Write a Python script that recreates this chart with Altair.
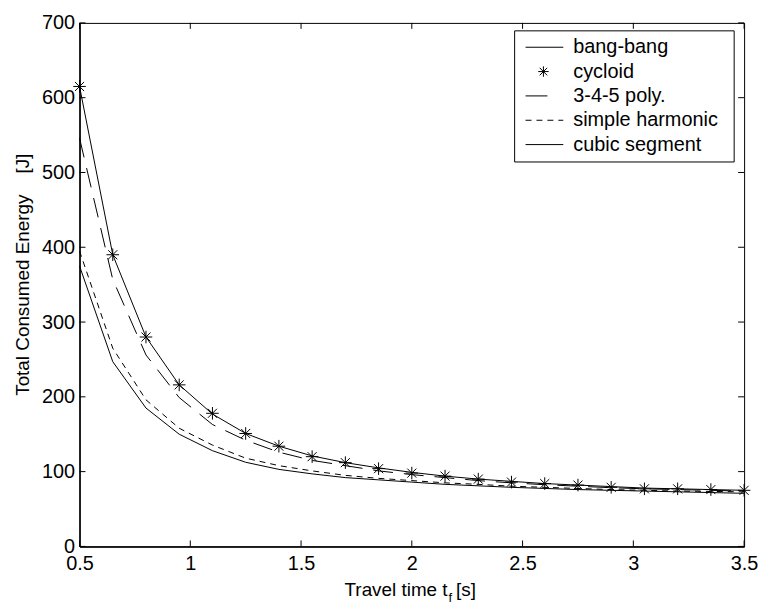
import altair as alt
import pandas as pd

# ---- data ----
tf = [0.5, 0.65, 0.8, 0.95, 1.1, 1.25, 1.4, 1.55, 1.7, 1.85, 2.0,
      2.15, 2.3, 2.45, 2.6, 2.75, 2.9, 3.05, 3.2, 3.35, 3.5]
bang_bang = [615, 390, 280, 216, 177, 151, 134, 121, 112, 105, 99,
             94, 90, 87, 84, 82, 80, 78, 77, 76, 75]
cycloid = [615, 390, 280, 216, 178, 151, 134, 120, 112, 104, 98,
           94, 90, 86, 84, 82, 79, 77, 77, 76, 75]
poly345 = [546, 357, 256, 199, 163, 142, 126, 115, 108, 101, 96,
           92, 88, 85, 82.5, 80.5, 78.5, 77, 76, 75, 74]
simple_harmonic = [395, 265, 196, 158, 135.5, 118, 108, 101, 95, 91, 88,
                   85, 83, 80.5, 79, 77.5, 76, 75, 74, 73.5, 73]
cubic_segment = [375, 247, 185, 150, 128, 112.5, 103, 97, 92, 89, 86,
                 83, 81, 79, 77.5, 76, 75, 74, 73, 72, 71]

series_names = ["bang-bang", "cycloid", "3-4-5 poly.", "simple harmonic", "cubic segment"]
x_ticks = [0.5, 1, 1.5, 2, 2.5, 3, 3.5]
y_ticks = [0, 100, 200, 300, 400, 500, 600, 700]
y_title = "Total Consumed Energy\u00a0\u00a0\u00a0\u00a0[J]"
x_title_parts = ["Travel time t", "f", "[s]"]

# ---- styling ----
W, H = 669, 527
FONT = "Liberation Sans"
FS = 20      # tick labels and legend
FS_T = 19    # axis titles
TICK = 6
STAR = "M-1,0L1,0M0,-1L0,1M-0.72,-0.72L0.72,0.72M-0.72,0.72L0.72,-0.72"
DASH_345 = [20, 11]
DASH_SH = [6, 5]

x_scale = alt.Scale(domain=[0.5, 3.5], nice=False, zero=False)
y_scale = alt.Scale(domain=[0, 700], nice=False, zero=False)

x_axis = alt.Axis(values=x_ticks, ticks=False, tickSize=0, grid=False,
                  domainColor="black", domainWidth=1.5,
                  labelFont=FONT, labelFontSize=FS, labelColor="black",
                  labelPadding=7, labelExpr="datum.value + ''",
                  labelFlush=False, labelOverlap=False, labelBound=False,
                  title=None)
y_axis = alt.Axis(values=y_ticks, ticks=False, tickSize=0, grid=False,
                  domainColor="black", domainWidth=1.5,
                  labelFont=FONT, labelFontSize=FS, labelColor="black",
                  labelPadding=5, labelFlush=False, labelOverlap=False,
                  labelBound=False,
                  title=y_title, titleFont=FONT, titleFontSize=FS_T,
                  titleFontWeight="normal", titleColor="black",
                  titleAngle=270, titleX=-51, titleY=253,
                  titleBaseline="alphabetic", titleAlign="center")

X = alt.X("tf:Q", scale=x_scale, axis=x_axis)
Y = alt.Y("E:Q", scale=y_scale, axis=y_axis)


def series_df(vals):
    return pd.DataFrame({"tf": tf, "E": vals})


def line(vals, dash=None):
    kw = dict(color="black", strokeWidth=1)
    if dash:
        kw["strokeDash"] = dash
    return alt.Chart(series_df(vals)).mark_line(**kw).encode(x=X, y=Y)


layers = []

# inward ticks on all four sides
ydf = pd.DataFrame({"E": y_ticks})
xdf = pd.DataFrame({"tf": x_ticks})
layers.append(alt.Chart(ydf).mark_rule(color="black", strokeWidth=1).encode(
    y=Y, x=alt.value(0), x2=alt.value(TICK)))
layers.append(alt.Chart(ydf).mark_rule(color="black", strokeWidth=1).encode(
    y=Y, x=alt.value(W - TICK), x2=alt.value(W)))
layers.append(alt.Chart(xdf).mark_rule(color="black", strokeWidth=1).encode(
    x=X, y=alt.value(H - TICK), y2=alt.value(H)))
layers.append(alt.Chart(xdf).mark_rule(color="black", strokeWidth=1).encode(
    x=X, y=alt.value(0), y2=alt.value(TICK)))

# series
layers.append(line(cubic_segment))
layers.append(line(simple_harmonic, DASH_SH))
layers.append(line(poly345, DASH_345))
layers.append(line(bang_bang))
layers.append(alt.Chart(series_df(cycloid)).mark_point(
    shape=STAR, size=160, filled=False, stroke="black", strokeWidth=1, opacity=1
).encode(x=X, y=Y))

# legend box
one = pd.DataFrame({"k": [0]})
layers.append(alt.Chart(one).mark_rect(fill="white", stroke="black", strokeWidth=1).encode(
    x=alt.value(438), x2=alt.value(659), y=alt.value(8), y2=alt.value(140)))

row_y = [24.5 + 24.5 * i for i in range(len(series_names))]
LX0, LX1 = 449, 487
# bang-bang
layers.append(alt.Chart(one).mark_rule(color="black", strokeWidth=1).encode(
    x=alt.value(LX0), x2=alt.value(LX1), y=alt.value(row_y[0])))
# cycloid
layers.append(alt.Chart(one).mark_point(
    shape=STAR, size=110, filled=False, stroke="black", strokeWidth=1, opacity=1
).encode(x=alt.value(467), y=alt.value(row_y[1])))
# 3-4-5
layers.append(alt.Chart(one).mark_rule(color="black", strokeWidth=1, strokeDash=[22, 30]).encode(
    x=alt.value(LX0), x2=alt.value(LX1), y=alt.value(row_y[2])))
# simple harmonic
layers.append(alt.Chart(one).mark_rule(color="black", strokeWidth=1, strokeDash=DASH_SH).encode(
    x=alt.value(LX0), x2=alt.value(LX1), y=alt.value(row_y[3])))
# cubic segment
layers.append(alt.Chart(one).mark_rule(color="black", strokeWidth=1).encode(
    x=alt.value(LX0), x2=alt.value(LX1), y=alt.value(row_y[4])))

for name, yy in zip(series_names, row_y):
    layers.append(alt.Chart(one).mark_text(
        text=name, font=FONT, fontSize=FS, color="black", align="left", baseline="middle"
    ).encode(x=alt.value(497), y=alt.value(yy)))

# x-axis title with subscript
layers.append(alt.Chart(one).mark_text(
    text=x_title_parts[0], font=FONT, fontSize=FS_T, color="black",
    align="right", baseline="alphabetic").encode(x=alt.value(370.5), y=alt.value(577)))
layers.append(alt.Chart(one).mark_text(
    text=x_title_parts[1], font=FONT, fontSize=13, color="black",
    align="left", baseline="alphabetic").encode(x=alt.value(371.5), y=alt.value(583)))
layers.append(alt.Chart(one).mark_text(
    text=x_title_parts[2], font=FONT, fontSize=FS_T, color="black",
    align="left", baseline="alphabetic").encode(x=alt.value(379), y=alt.value(577)))

chart = alt.layer(*layers).properties(
    width=W, height=H,
    padding={"left": 72, "top": 13, "right": 15, "bottom": 60},
    autosize=alt.AutoSizeParams(type="none"),
    background="white",
).configure_view(stroke="black", strokeWidth=1)

chart.save("out.html", embed_options={"renderer": "svg", "actions": False})
